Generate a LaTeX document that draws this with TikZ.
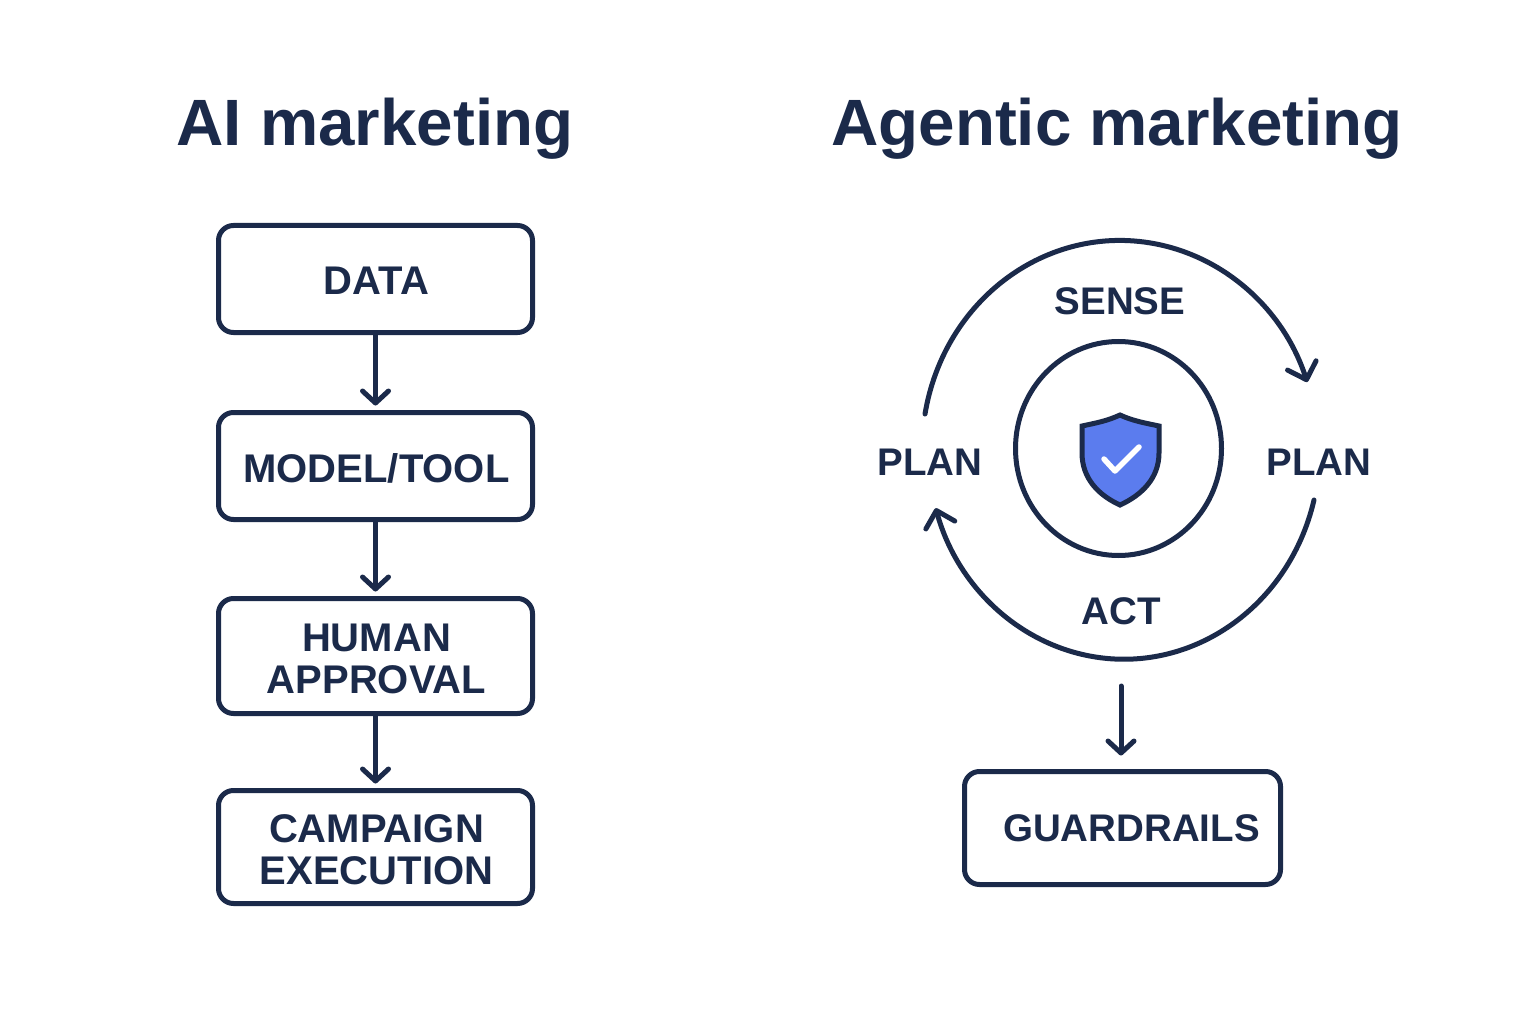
\documentclass[tikz,border=0pt]{standalone}
\usepackage{fontspec}
\setmainfont{Liberation Sans}
\usetikzlibrary{arrows.meta,shapes.geometric}
\definecolor{ink}{HTML}{1B2A4A}
\definecolor{shieldblue}{HTML}{5B7CEE}
\newcommand{\lowered}[2]{\hspace{2pt}\raisebox{-#1}[\height][0pt]{#2}}
\tikzset{
  px/.style={x=1pt,y=-1pt},
  boxn/.style={draw=ink,line width=5pt,rounded corners=15pt,minimum width=314pt,align=center,text=ink,font=\fontsize{40}{42}\selectfont\bfseries,inner sep=0pt,outer sep=0pt},
  lab/.style={text=ink,font=\fontsize{38.5}{42}\selectfont\bfseries,inner sep=0pt,outer sep=0pt},
  ttl/.style={text=ink,font=\fontsize{65.5}{65}\selectfont\bfseries,inner sep=0pt,outer sep=0pt},
  arr/.style={draw=ink,line width=5pt,line cap=round,-{Straight Barb[length=12pt,width=26pt,line width=5pt,round]}},
  ringarr/.style={draw=ink,line width=5pt,line cap=round,-{Straight Barb[length=15pt,width=30pt,line width=5pt,round]}},
  ringn/.style={draw=ink,line width=5pt,ellipse,inner sep=0pt,outer sep=0pt}
}
\begin{document}
\begin{tikzpicture}[px]
\useasboundingbox (0,0) rectangle (1536,1024);
\fill[white] (0,0) rectangle (1536,1024);
\node[ttl] (t1) at (375,129) {AI marketing};
\node[ttl] (t2) at (1117,129) {Agentic marketing};
\node[boxn,minimum height=107pt] (b1) at (375.5,279) {\lowered{2pt}{DATA}};
\node[boxn,minimum height=107pt] (b2) at (375.5,466) {\lowered{2pt}{MODEL/TOOL}};
\node[boxn,minimum height=115pt] (b3) at (375.5,656) {\lowered{3pt}{HUMAN}\\\lowered{3pt}{APPROVAL}};
\node[boxn,minimum height=113pt] (b4) at (375.5,847) {\lowered{3pt}{CAMPAIGN}\\\lowered{3pt}{EXECUTION}};
\draw[arr,shorten >=7pt] (b1.south) -- (b2.north);
\draw[arr,shorten >=7pt] (b2.south) -- (b3.north);
\draw[arr,shorten >=7pt] (b3.south) -- (b4.north);
\node[ringn,minimum width=206pt,minimum height=214pt] (ring) at (1118.5,448.5) {};
\node[lab] (sense) at (1120,301) {SENSE};
\node[lab] (planl) at (930,462) {PLAN};
\node[lab] (planr) at (1319,462) {PLAN};
\node[lab] (act) at (1121,611) {ACT};
\node[boxn,minimum height=113pt,minimum width=316pt,font=\fontsize{38.5}{42}\selectfont\bfseries] (g) at (1122.5,828) {\hspace{18pt}GUARDRAILS};
\coordinate (gs) at (1121,686);
\draw[arr,shorten >=16pt] (gs) -- (gs |- g.north);
\coordinate (a1) at (925,414);
\coordinate (a2) at (1314,500);
\draw[ringarr] (a1) arc[start angle=190,end angle=341,x radius=198,y radius=210];
\draw[ringarr] (a2) arc[start angle=14,end angle=163.7,x radius=196,y radius=210];
\filldraw[fill=shieldblue,draw=ink,line width=5pt,line join=miter]
  (1120,415) .. controls (1133,421) and (1145,423) .. (1159,426)
  -- (1159,453) .. controls (1159,478) and (1142,495) .. (1120,505)
  .. controls (1098,495) and (1082,478) .. (1082,453)
  -- (1082,426) .. controls (1096,423) and (1107,421) .. (1120,415) -- cycle;
\draw[white,line width=5.5pt,line cap=round,line join=round] (1104,459) -- (1115,471) -- (1139,447);
\end{tikzpicture}
\end{document}
